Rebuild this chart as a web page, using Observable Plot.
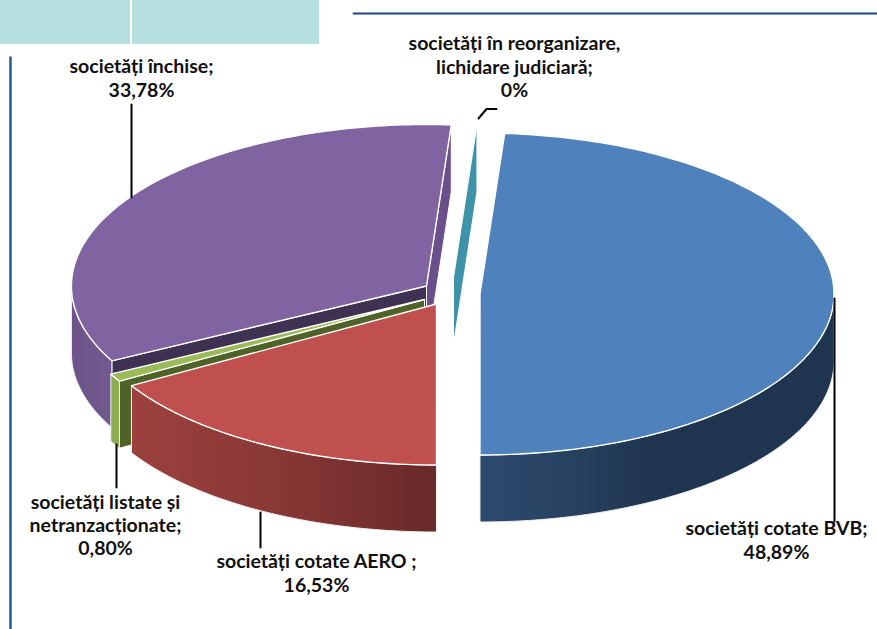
<!DOCTYPE html>
<html lang="ro">
<head>
<meta charset="utf-8">
<script src="https://cdn.jsdelivr.net/npm/d3@7"></script>
<script src="https://cdn.jsdelivr.net/npm/@observablehq/plot@0.6"></script>
<style>
  html, body { margin: 0; padding: 0; background: #fff; }
  svg { display: block; }
</style>
</head>
<body>
<div id="chart"></div>
<script>
// ---- data ----
const names = [
  "societăți cotate BVB;",
  "societăți cotate AERO ;",
  "societăți listate și\nnetranzacționate;",
  "societăți închise;",
  "societăți în reorganizare,\nlichidare judiciară;"
];
const shares = [48.89, 16.53, 0.80, 33.78, 0];
const valueLabels = ["48,89%", "16,53%", "0,80%", "33,78%", "0%"];

// ---- layout and style ----
const W = 877, H = 629;
const rx = 354, ry = 161, depthPx = 67, cx0 = 430, cy0 = 290;
const startDeg = 4;
const ux = (px) => (px - cx0) / rx;
const uy = (py) => (cy0 - py) / ry;
const depth = depthPx / ry;

const sliceCentres = [[479.5, 293.5], [436, 303.5], [424, 299], [426, 285.5], [453, 277]];
const sliceRadius = [1, 1, 1, 1.003, 0.95];
const topColours = ["#4f81bd", "#c0504d", "#9bbb59", "#8064a2", "#3f93a8"];
const startFace = [null, null, "#4f6228", "#3f3151", null];
const endFace = [null, null, null, "#69508a", "#3f93a8"];
const labelAt = [[776, 539], [316, 572], [105, 524], [141, 77], [514, 65.5]];
const leaders = [
  [[834, 298], [834, 521]],
  [[260, 512], [260, 547]],
  [[116, 444], [116, 487]],
  [[131, 104], [131, 197]],
  [[478, 118], [486, 108.5], [496, 108.5]]
];
const wallGradients = [
  ["g0", [[0, "#2d4b6e"], [0.3, "#263f5e"], [0.5, "#1f344e"], [1, "#1f344e"]]],
  ["g1", [[0, "#9c413e"], [0.5, "#873735"], [1, "#672929"]]],
  ["g2", [[0, "#8dab50"], [1, "#8dab50"]]],
  ["g3", [[0, "#6c5489"], [1, "#725a91"]]]
];

// ---- geometry from the shares ----
const rad = (d) => d * Math.PI / 180;
let cum = startDeg;
const slices = shares.map((s, i) => {
  const a0 = cum;
  const a1 = a0 + s * 3.6;
  cum = a1;
  const [cxp, cyp] = sliceCentres[i];
  return {i, a0, a1, c: {x: ux(cxp), y: uy(cyp)}, r: sliceRadius[i]};
});
// the zero-share slice sits on the seam between the last and the first slice
slices[4].a0 = slices[4].a1 = startDeg + 360;

const pt = (s, a, d = 0) => ({
  x: s.c.x + s.r * Math.sin(rad(a)),
  y: s.c.y + s.r * Math.cos(rad(a)) - d
});
const arc = (s, a0, a1, d = 0) => {
  const n = Math.max(2, Math.ceil(Math.abs(a1 - a0)));
  return d3.range(n + 1).map((k) => pt(s, a0 + (a1 - a0) * k / n, d));
};
const apex = (s, d = 0) => ({x: s.c.x, y: s.c.y - d});
const close = (p) => [...p, p[0]];

const topFace = (s) => close([apex(s), ...arc(s, s.a0, s.a1)]);
const cutFace = (s, a) => close([apex(s), pt(s, a), pt(s, a, depth), apex(s, depth)]);
const wall = (s) => {
  const a0 = Math.max(s.a0, 90), a1 = Math.min(s.a1, 270);
  return close([...arc(s, a0, a1), ...arc(s, a1, a0, depth)]);
};

const poly = (pts, fill, stroke = "#ffffff", strokeWidth = 1.3) =>
  Plot.line(pts, {x: "x", y: "y", fill, stroke, strokeWidth, strokeLinejoin: "round"});

const sliceMarks = (i) => {
  const s = slices[i];
  const m = [];
  if (endFace[i]) m.push(poly(cutFace(s, s.a1), endFace[i], "#ffffff", 1));
  if (startFace[i]) m.push(poly(cutFace(s, s.a0), startFace[i], "#ffffff", 1));
  if (s.a1 > s.a0) {
    m.push(poly(wall(s), `url(#g${i})`, "#efefef", 1));
    m.push(poly(topFace(s), topColours[i], "#ffffff", 1.4));
  }
  return m;
};

const defs = () => {
  const d = d3.create("svg:defs");
  for (const [id, stops] of wallGradients) {
    const g = d.append("linearGradient").attr("id", id)
      .attr("x1", 0).attr("x2", 1).attr("y1", 0).attr("y2", 0);
    for (const [o, c] of stops) g.append("stop").attr("offset", o).attr("stop-color", c);
  }
  return d.node();
};

const labels = names.map((n, i) => ({
  text: `${n}\n${valueLabels[i]}`,
  x: ux(labelAt[i][0]),
  y: uy(labelAt[i][1])
}));

const frameRects = [
  {x1: ux(0), x2: ux(130), y1: uy(0), y2: uy(44)},
  {x1: ux(132), x2: ux(319), y1: uy(0), y2: uy(44)}
];
const toU = ([a, b]) => ({x: ux(a), y: uy(b)});

const chart = Plot.plot({
  width: W,
  height: H,
  margin: 0,
  style: {background: "#ffffff", overflow: "visible"},
  x: {domain: [-1, 1], range: [cx0 - rx, cx0 + rx], axis: null},
  y: {domain: [-1, 1], range: [cy0 + ry, cy0 - ry], axis: null},
  marks: [
    defs,
    Plot.rect(frameRects, {x1: "x1", x2: "x2", y1: "y1", y2: "y2", fill: "#b5e0df"}),
    Plot.line([[353, 13], [877, 13]].map(toU), {x: "x", y: "y", stroke: "#1f497d", strokeWidth: 2}),
    Plot.line([[10, 57], [10, 629]].map(toU), {x: "x", y: "y", stroke: "#2a5590", strokeWidth: 2.5}),
    ...sliceMarks(4),
    ...sliceMarks(0),
    ...sliceMarks(3),
    ...sliceMarks(2),
    ...sliceMarks(1),
    ...leaders.map((l) => Plot.line(l.map(toU), {x: "x", y: "y", stroke: "#000000", strokeWidth: 2})),
    Plot.text(labels, {
      x: "x", y: "y", text: "text",
      textAnchor: "middle", lineAnchor: "middle", lineHeight: 1.2,
      fontFamily: "Lato", fontWeight: 700, fontSize: 19.5, fill: "#111111"
    })
  ]
});
document.getElementById("chart").append(chart);
</script>
</body>
</html>
